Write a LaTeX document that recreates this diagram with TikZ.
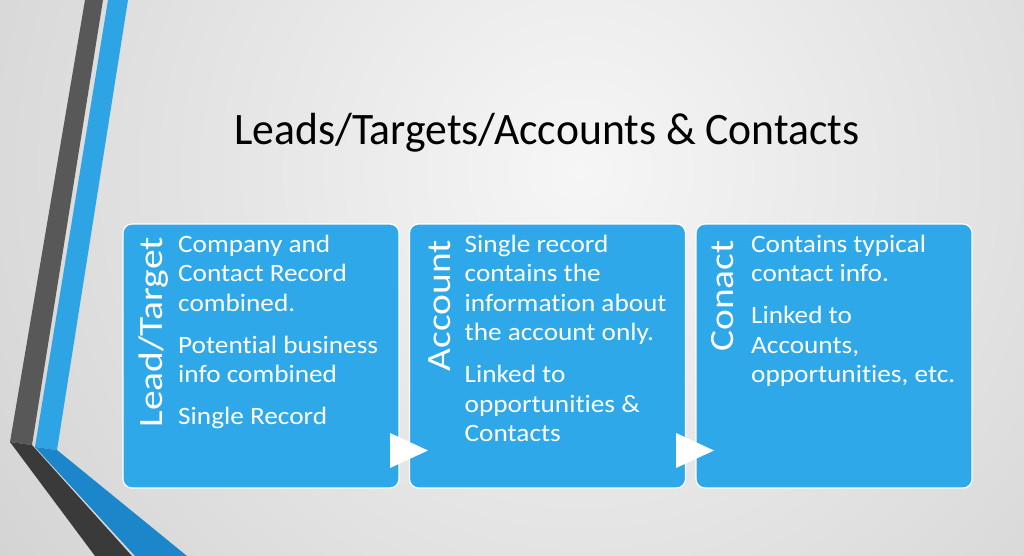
\documentclass[tikz,border=0pt]{standalone}
\usepackage{fontspec}
\setmainfont{Carlito}[Ligatures=NoCommon]
\newfontfamily\titlefont{Carlito}[FakeStretch=0.97, Ligatures=NoCommon]
\newfontfamily\bodyfont{Carlito}[FakeStretch=1.09, Ligatures=NoCommon]
\newfontfamily\labelfont{Carlito}[FakeStretch=1.16, Ligatures=NoCommon]
\usepackage{tikz}
\usetikzlibrary{positioning}
\definecolor{bginner}{RGB}{246,246,246}
\definecolor{bgouter}{RGB}{168,168,168}
\definecolor{stageblue}{RGB}{46,168,232}
\definecolor{bandgray}{RGB}{88,88,88}
\definecolor{banddark}{RGB}{58,58,58}
\definecolor{bandblue}{RGB}{46,164,228}
\definecolor{banddeep}{RGB}{27,134,202}

\begin{document}
\begin{tikzpicture}[x=1pt, y=-1pt]

\tikzstyle{stagebox}=[draw=white, line width=1.2pt, fill=stageblue,
rounded corners=9pt, minimum width=276pt, minimum height=264pt,
inner sep=0pt, outer sep=0pt]
\tikzstyle{stagelabel}=[rotate=90, anchor=base east, inner sep=0pt,
text=white, font=\labelfont\fontsize{34}{40}\selectfont]
\tikzstyle{stagetext}=[anchor=north west, align=left, inner sep=0pt,
text=white, font=\bodyfont\fontsize{25}{29.5}\selectfont]
\tikzstyle{stagearrow}=[fill=white]

% background
\useasboundingbox (0,0) rectangle (1024,556);
\begin{scope}
\clip (0,0) rectangle (1024,556);
\shade[inner color=bginner, outer color=bgouter] (-1020,-1430) rectangle (2180,1770);
% left bands
\fill[bandgray] (85,0) -- (103,0) -- (32,445) -- (10,442) -- cycle;
\fill[banddark] (10,442) -- (32,445) -- (132,556) -- (95,556) -- cycle;
\fill[bandblue] (108,0) -- (128,0) -- (57,450) -- (35,447) -- cycle;
\fill[banddeep] (35,447) -- (57,450) -- (187,556) -- (135,556) -- cycle;
\end{scope}

\node[anchor=base, inner sep=0pt, font=\titlefont\fontsize{45}{54}\selectfont] (title) at (547,145)
{Leads/Targets/Accounts \& Contacts};

\node[stagebox] (lead) at (261,356) {};
\node[stagebox, right=10.5pt of lead] (account) {};
\node[stagebox, right=10.5pt of account] (contact) {};

\node[stagelabel] (leadlabel) at ([shift={(39,13)}]lead.north west) {Lead/Target};
\node[stagelabel] (accountlabel) at ([shift={(41,16)}]account.north west) {Account};
\node[stagelabel] (contactlabel) at ([shift={(37,16)}]contact.north west) {Conact};

\node[stagetext] (leadtext) at ([shift={(55,10.5)}]lead.north west)
{Company and\\Contact Record\\combined.\\[12.5pt]Potential business\\info combined\\[12.5pt]Single Record};
\node[stagetext] (accounttext) at ([shift={(55,10.5)}]account.north west)
{Single record\\contains the\\information about\\the account only.\\[12.5pt]Linked to\\opportunities \&\\Contacts};
\node[stagetext] (contacttext) at ([shift={(55,10.5)}]contact.north west)
{Contains typical\\contact info.\\[12.5pt]Linked to\\Accounts,\\opportunities, etc.};

\fill[stagearrow] (lead.south east) ++(-9,-20) -- ++(0,-35) -- ++(38,17.5) -- cycle;
\fill[stagearrow] (account.south east) ++(-9.5,-20) -- ++(0,-35) -- ++(38,17.5) -- cycle;
\end{tikzpicture}
\end{document}
